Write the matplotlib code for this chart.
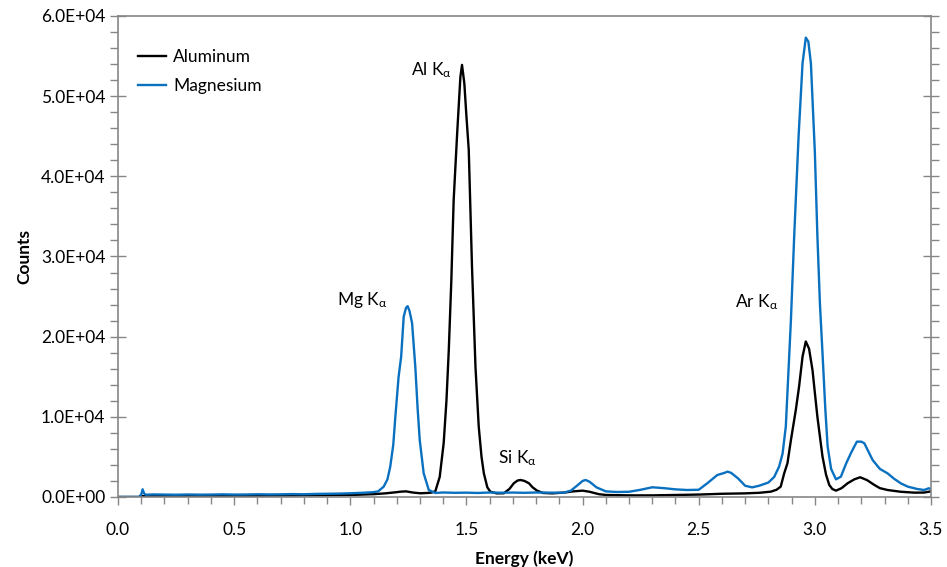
import matplotlib
matplotlib.use("Agg")
import matplotlib.pyplot as plt
from matplotlib.ticker import MultipleLocator, FuncFormatter

plt.rcParams['font.family'] = ['Lato', 'DejaVu Sans']
plt.rcParams['mathtext.fontset'] = 'custom'
plt.rcParams['mathtext.rm'] = 'Lato'
plt.rcParams['mathtext.it'] = 'Lato'

# Aluminum spectrum (energy keV, counts)
al_energy = [0.00, 0.09, 0.10, 0.20, 0.30, 0.40, 0.50, 0.60, 0.70, 0.80, 0.90, 1.00,
             1.10, 1.15, 1.20, 1.216, 1.24, 1.27, 1.302, 1.33, 1.35, 1.366, 1.385,
             1.402, 1.414, 1.424, 1.435, 1.445, 1.460, 1.474, 1.481, 1.491, 1.500,
             1.510, 1.524, 1.539, 1.553, 1.565, 1.575, 1.590, 1.603, 1.630, 1.661,
             1.685, 1.704, 1.720, 1.733, 1.750, 1.769, 1.785, 1.804, 1.830, 1.870,
             1.920, 1.960, 2.000, 2.030, 2.070, 2.100, 2.200, 2.300, 2.400, 2.500,
             2.600, 2.700, 2.760, 2.810, 2.835, 2.853, 2.868, 2.882, 2.897, 2.911,
             2.918, 2.932, 2.947, 2.961, 2.975, 2.990, 3.000, 3.011, 3.022, 3.033,
             3.048, 3.062, 3.075, 3.091, 3.115, 3.141, 3.170, 3.195, 3.225, 3.256,
             3.280, 3.313, 3.370, 3.428, 3.470, 3.500]
al_counts = [0, 0, 100, 110, 100, 130, 120, 150, 170, 200, 220, 250,
             350, 450, 600, 660, 700, 550, 460, 500, 550, 700, 2500,
             6700, 12000, 18300, 27000, 37000, 45300, 52400, 53900, 51600, 47500,
             43300, 28700, 16200, 8770, 5000, 2950, 1200, 660, 450, 460,
             1000, 1710, 2050, 2120, 2000, 1710, 1200, 790, 500, 450,
             550, 700, 790, 650, 350, 250, 200, 200, 250, 300,
             400, 450, 520, 660, 900, 1290, 2950, 4200, 7100, 9600,
             10850, 13750, 17500, 19400, 18500, 15800, 13000, 10000, 7500, 5030,
             2800, 1500, 1000, 790, 1100, 1710, 2200, 2460, 2100, 1500,
             1100, 870, 650, 540, 550, 700]

# Magnesium spectrum (energy keV, counts)
mg_energy = [0.00, 0.09, 0.100, 0.106, 0.112, 0.12, 0.15, 0.20, 0.25, 0.30, 0.35,
             0.40, 0.45, 0.50, 0.55, 0.60, 0.65, 0.70, 0.75, 0.80, 0.85, 0.90,
             0.95, 1.00, 1.05, 1.10, 1.12, 1.144, 1.160, 1.172, 1.185, 1.194,
             1.208, 1.219, 1.230, 1.240, 1.247, 1.255, 1.266, 1.280, 1.290, 1.299,
             1.316, 1.338, 1.366, 1.40, 1.45, 1.50, 1.55, 1.60, 1.65, 1.70, 1.75,
             1.80, 1.85, 1.92, 1.95, 1.98, 2.000, 2.013, 2.030, 2.060, 2.100,
             2.150, 2.200, 2.250, 2.300, 2.350, 2.400, 2.450, 2.500, 2.537, 2.580,
             2.610, 2.624, 2.640, 2.670, 2.700, 2.730, 2.760, 2.800, 2.825, 2.846,
             2.861, 2.875, 2.897, 2.911, 2.930, 2.947, 2.961, 2.972, 2.983, 3.000,
             3.011, 3.022, 3.033, 3.045, 3.055, 3.070, 3.091, 3.112, 3.135, 3.155,
             3.170, 3.181, 3.200, 3.213, 3.230, 3.249, 3.280, 3.313, 3.340, 3.370,
             3.400, 3.440, 3.470, 3.490, 3.500]
mg_counts = [0, 0, 300, 960, 450, 280, 320, 300, 280, 310, 290,
             300, 330, 300, 310, 340, 320, 330, 360, 340, 380, 400,
             420, 460, 520, 600, 700, 1290, 2200, 3780, 6500, 10000,
             15000, 17500, 22500, 23600, 23800, 23200, 21700, 16200, 11000, 7100,
             2950, 870, 500, 560, 520, 540, 500, 560, 530, 550, 520,
             560, 540, 540, 800, 1500, 2000, 2120, 1900, 1200, 700,
             620, 650, 900, 1210, 1100, 950, 870, 900, 1710, 2740,
             3000, 3160, 3000, 2300, 1400, 1200, 1400, 1800, 2500, 3780,
             5400, 8800, 22100, 32500, 45000, 54100, 57300, 56800, 54100, 43000,
             32500, 24000, 17900, 11000, 6300, 3500, 2200, 2530, 4200, 5450,
             6300, 6900, 6900, 6700, 5700, 4600, 3500, 2950, 2300, 1700,
             1290, 1000, 870, 1080, 1000]

peak_labels = ['Mg K$_\\alpha$', 'Al K$_\\alpha$', 'Si K$_\\alpha$', 'Ar K$_\\alpha$']
peak_label_x = [1.05, 1.35, 1.72, 2.75]
peak_label_y = [24600, 53200, 4900, 24300]

fig = plt.figure(figsize=(9.47, 5.67), dpi=100)
ax = fig.add_axes([0.1246, 0.1235, 0.9831 - 0.1246, 0.9718 - 0.1235])

ax.plot(al_energy, al_counts, color='black', lw=1.7, label='Aluminum')
ax.plot(mg_energy, mg_counts, color='#0A70C0', lw=1.7, label='Magnesium')

ax.set_xlim(0, 3.5)
ax.set_ylim(0, 60000)
ax.xaxis.set_major_locator(MultipleLocator(0.5))
ax.xaxis.set_minor_locator(MultipleLocator(0.1))
ax.yaxis.set_major_locator(MultipleLocator(10000))
ax.yaxis.set_minor_locator(MultipleLocator(2000))
ax.xaxis.set_major_formatter(FuncFormatter(lambda v, p: f'{v:.1f}'))
ax.yaxis.set_major_formatter(FuncFormatter(lambda v, p: f'{v:.1E}'))

gc = '#868686'
for s in ax.spines.values():
    s.set_color(gc)
    s.set_linewidth(1.2)

fs = 12.5
ax.tick_params(axis='y', which='major', direction='inout', length=12, width=1, color=gc,
               left=True, right=True, labelsize=fs, pad=3)
ax.tick_params(axis='y', which='minor', direction='out', length=6, width=1, color=gc,
               left=True, right=True)
ax.tick_params(axis='x', which='major', direction='out', length=6, width=1, color=gc,
               labelsize=fs, pad=12)
ax.tick_params(axis='x', which='minor', direction='out', length=5, width=1, color=gc)

ax.set_xlabel('Energy (keV)', fontsize=fs, fontweight='bold', labelpad=9)
ax.set_ylabel('Counts', fontsize=fs, fontweight='bold', labelpad=6)

for t, x, y in zip(peak_labels, peak_label_x, peak_label_y):
    ax.text(x, y, t, fontsize=fs, ha='center', va='center')

ax.legend(loc='upper left', bbox_to_anchor=(0.005, 0.963), frameon=False, fontsize=fs,
          handlelength=1.65, handletextpad=0.4, labelspacing=0.75)

fig.savefig('out.png', dpi=100)
